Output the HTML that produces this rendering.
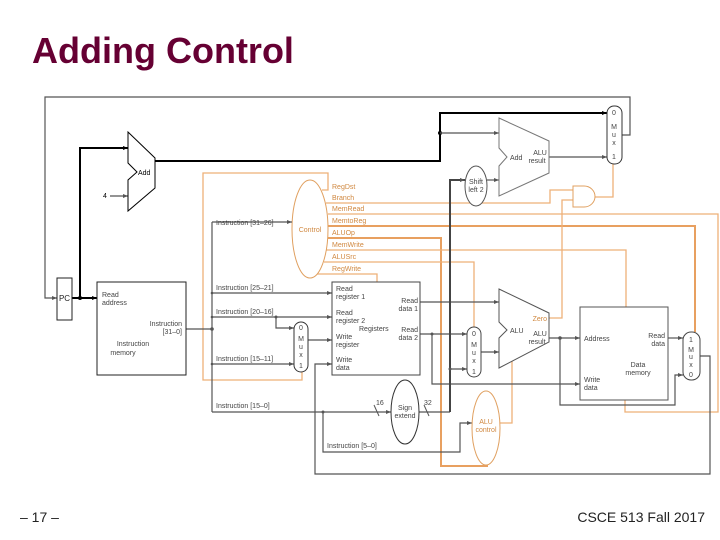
<!DOCTYPE html>
<html><head><meta charset="utf-8"><style>
body{margin:0;background:#fff}
svg{display:block}
text{font-family:"Liberation Sans",sans-serif}
.s{font-size:7px;fill:#444}
.o{font-size:7px;fill:#d08840}
</style></head><body>
<svg width="720" height="540" viewBox="0 0 720 540" xmlns="http://www.w3.org/2000/svg">
<defs>
<marker id="a" markerWidth="6" markerHeight="6" refX="5" refY="3" orient="auto" markerUnits="userSpaceOnUse"><path d="M0,1 L5,3 L0,5z" fill="#555"/></marker>
<marker id="k" markerWidth="6" markerHeight="6" refX="5" refY="3" orient="auto" markerUnits="userSpaceOnUse"><path d="M0,1 L5,3 L0,5z" fill="#000"/></marker>
</defs>
<text x="32" y="63" font-size="36" font-weight="bold" fill="#660033">Adding Control</text>

<g fill="none" stroke="#eeb078" stroke-width="1.3">
<path d="M322,190 L328,190 L328,173 L203,173 L203,380 L302,380 L302,372"/>
<path d="M326,203 L550,203 L550,190 L573,190"/>
<path d="M328,214 L718,214 L718,412 L625,412 L625,400"/>
<path d="M328,226 L695,226 L695,332" stroke="#e8a060" stroke-width="2"/>
<path d="M328,238 L441,238 L441,466 L487,466 L487,465" stroke="#e8a060" stroke-width="2"/>
<path d="M326,250 L626,250 L626,307"/>
<path d="M324,262 L474,262 L474,330"/>
<path d="M316,274 L377,274 L377,282"/>
<path d="M595,197 L613,197 L613,164"/>
<path d="M549,318 L562,318 L562,200 L573,200"/>
<path d="M500,423 L512,423 L512,357"/>
</g>
<ellipse cx="310" cy="229" rx="18" ry="49" fill="#fff" stroke="#e0a060"/>
<text x="310" y="232" class="o" text-anchor="middle">Control</text>
<g class="o"><text x="332" y="189">RegDst</text><text x="332" y="200">Branch</text><text x="332" y="211">MemRead</text><text x="332" y="223">MemtoReg</text><text x="332" y="235">ALUOp</text><text x="332" y="247">MemWrite</text><text x="332" y="259">ALUSrc</text><text x="332" y="271">RegWrite</text></g>
<path d="M573,186 L584,186 A11,10.5 0 0 1 584,207 L573,207 Z" fill="#fff" stroke="#e0a060"/>

<g fill="none" stroke="#000" stroke-width="2">
<path d="M72,298 L97,298" marker-end="url(#k)"/>
<path d="M80,298 L80,148 L128,148" marker-end="url(#k)"/>
<path d="M155,161 L440,161 L440,113 L607,113" marker-end="url(#k)"/>
</g>
<circle cx="80" cy="298" r="2"/><circle cx="440" cy="133" r="2"/>
<g fill="none" stroke="#555" stroke-width="1.2">
<path d="M615,135 L630,135 L630,97 L45,97 L45,298 L57,298" marker-end="url(#a)"/>
<path d="M110,196 L128,196" marker-end="url(#a)"/>
<path d="M440,133 L499,133" marker-end="url(#a)"/>
<path d="M549,157 L607,157" marker-end="url(#a)"/>
<path d="M487,180 L499,180" marker-end="url(#a)"/>
<path d="M186,329 L212,329"/>
<path d="M212,222 L212,412"/>
<path d="M212,222 L292,222" marker-end="url(#a)"/>
<path d="M212,293 L332,293" marker-end="url(#a)"/>
<path d="M212,317 L332,317" marker-end="url(#a)"/>
<path d="M276,317 L276,328 L294,328" marker-end="url(#a)"/>
<path d="M212,364 L294,364" marker-end="url(#a)"/>
<path d="M308,340 L332,340" marker-end="url(#a)"/>
<path d="M212,412 L391,412" marker-end="url(#a)"/>
<path d="M323,412 L323,452 L460,452 L460,423 L472,423" marker-end="url(#a)"/>
<path d="M420,302 L499,302" marker-end="url(#a)"/>
<path d="M420,334 L467,334" marker-end="url(#a)"/>
<path d="M432,334 L432,384 L580,384" marker-end="url(#a)"/>
<path d="M481,352 L499,352" marker-end="url(#a)"/>
<path d="M549,338 L580,338" marker-end="url(#a)"/>
<path d="M560,338 L560,405 L675,405 L675,375 L683,375" marker-end="url(#a)"/>
<path d="M668,338 L683,338" marker-end="url(#a)"/>
<path d="M700,356 L710,356 L710,474 L315,474 L315,364 L332,364" marker-end="url(#a)"/>
<path d="M419,412 L450,412"/>
<path d="M450,369 L467,369" marker-end="url(#a)"/>
</g>
<path d="M450,412 L450,180 L465,180" fill="none" stroke="#444" stroke-width="2" marker-end="url(#a)"/>
<g stroke="#555"><line x1="374" y1="405" x2="379" y2="416"/><line x1="424" y1="405" x2="429" y2="416"/></g>
<g fill="#555"><circle cx="212" cy="329" r="1.8"/><circle cx="276" cy="317" r="1.5"/><circle cx="212" cy="317" r="1.3"/><circle cx="212" cy="293" r="1.3"/><circle cx="212" cy="364" r="1.3"/><circle cx="323" cy="412" r="1.5"/><circle cx="432" cy="334" r="1.5"/><circle cx="560" cy="338" r="1.8"/><circle cx="450" cy="369" r="1.5"/></g>

<rect x="57" y="278" width="15" height="42" fill="#fff" stroke="#222"/>
<text x="64.5" y="301" font-size="8" fill="#222" text-anchor="middle">PC</text>
<path d="M128,132 L155,158 L155,188 L128,211 L128,180 L137,172 L128,163 Z" fill="#fff" stroke="#000"/>
<text x="138" y="175" font-size="7" fill="#000">Add</text>
<text x="103" y="198" font-size="7" fill="#000">4</text>
<path d="M499,118 L549,141 L549,173 L499,196 L499,166 L507,157 L499,148 Z" fill="#fff" stroke="#777"/>
<text x="510" y="160" class="s">Add</text>
<text x="540" y="155" class="s" text-anchor="middle">ALU</text><text x="537" y="163" class="s" text-anchor="middle">result</text>
<rect x="607" y="106" width="15" height="58" rx="7" fill="#fff" stroke="#333"/>
<g class="s" text-anchor="middle" fill="#222"><text x="614" y="115">0</text><text x="614" y="129">M</text><text x="614" y="137">u</text><text x="614" y="145">x</text><text x="614" y="159">1</text></g>
<ellipse cx="476" cy="186" rx="11" ry="20" fill="#fff" stroke="#555"/>
<text x="476" y="184" class="s" text-anchor="middle">Shift</text><text x="476" y="192" class="s" text-anchor="middle">left 2</text>
<rect x="97" y="282" width="89" height="93" fill="#fff" stroke="#222"/>
<g class="s" fill="#222"><text x="102" y="297">Read</text><text x="102" y="305">address</text>
<text x="182" y="326" text-anchor="end">Instruction</text><text x="182" y="334" text-anchor="end">[31–0]</text>
<text x="133" y="346" text-anchor="middle">Instruction</text><text x="123" y="355" text-anchor="middle">memory</text></g>
<g class="s"><text x="216" y="225">Instruction [31–26]</text><text x="216" y="290">Instruction [25–21]</text><text x="216" y="314">Instruction [20–16]</text><text x="216" y="361">Instruction [15–11]</text><text x="216" y="408">Instruction [15–0]</text><text x="327" y="448">Instruction [5–0]</text></g>
<rect x="294" y="322" width="14" height="50" rx="7" fill="#fff" stroke="#333"/>
<g class="s" text-anchor="middle"><text x="301" y="330">0</text><text x="301" y="341">M</text><text x="301" y="349">u</text><text x="301" y="357">x</text><text x="301" y="368">1</text></g>
<rect x="332" y="282" width="88" height="93" fill="#fff" stroke="#444"/>
<g class="s"><text x="336" y="291">Read</text><text x="336" y="299">register 1</text><text x="336" y="315">Read</text><text x="336" y="323">register 2</text><text x="359" y="331">Registers</text><text x="336" y="339">Write</text><text x="336" y="347">register</text><text x="336" y="362">Write</text><text x="336" y="370">data</text>
<text x="418" y="303" text-anchor="end">Read</text><text x="418" y="311" text-anchor="end">data 1</text><text x="418" y="332" text-anchor="end">Read</text><text x="418" y="340" text-anchor="end">data 2</text>
<text x="376" y="405">16</text><text x="424" y="405">32</text></g>
<ellipse cx="405" cy="412" rx="14" ry="32" fill="#fff" stroke="#333"/>
<text x="405" y="410" class="s" text-anchor="middle">Sign</text><text x="405" y="418" class="s" text-anchor="middle">extend</text>
<rect x="467" y="327" width="14" height="50" rx="7" fill="#fff" stroke="#444"/>
<g class="s" text-anchor="middle"><text x="474" y="336">0</text><text x="474" y="347">M</text><text x="474" y="355">u</text><text x="474" y="363">x</text><text x="474" y="374">1</text></g>
<path d="M499,289 L549,313 L549,342 L499,368 L499,338 L507,330 L499,322 Z" fill="#fff" stroke="#555"/>
<text x="510" y="333" class="s">ALU</text><text x="547" y="321" class="o" text-anchor="end">Zero</text>
<text x="540" y="336" class="s" text-anchor="middle">ALU</text><text x="537" y="344" class="s" text-anchor="middle">result</text>
<ellipse cx="486" cy="428" rx="14" ry="37" fill="#fff" stroke="#e0a060"/>
<text x="486" y="424" class="o" text-anchor="middle">ALU</text><text x="486" y="432" class="o" text-anchor="middle">control</text>
<rect x="580" y="307" width="88" height="93" fill="#fff" stroke="#555"/>
<g class="s"><text x="584" y="341">Address</text><text x="665" y="338" text-anchor="end">Read</text><text x="665" y="346" text-anchor="end">data</text>
<text x="638" y="367" text-anchor="middle">Data</text><text x="638" y="375" text-anchor="middle">memory</text><text x="584" y="382">Write</text><text x="584" y="390">data</text></g>
<rect x="683" y="332" width="17" height="48" rx="8" fill="#fff" stroke="#444"/>
<g class="s" text-anchor="middle"><text x="691" y="342">1</text><text x="691" y="352">M</text><text x="691" y="359">u</text><text x="691" y="367">x</text><text x="691" y="377">0</text></g>

<text x="20" y="522" font-size="14" fill="#222">– 17 –</text>
<text x="705" y="522" font-size="14" fill="#222" text-anchor="end">CSCE 513 Fall 2017</text>
</svg>
</body></html>
